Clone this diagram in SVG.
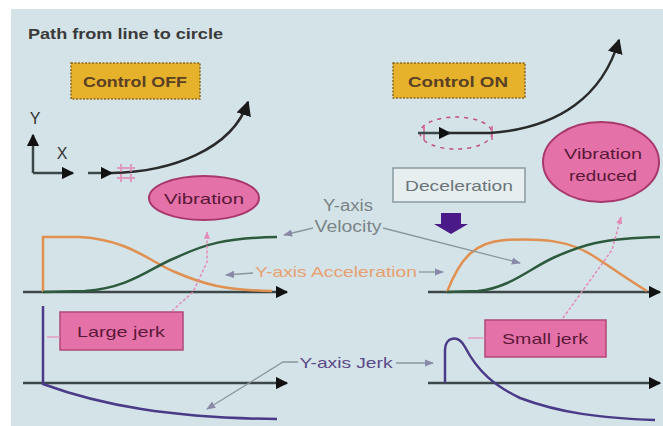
<svg xmlns="http://www.w3.org/2000/svg" width="663" height="426" viewBox="0 0 663 426">
<style>
  text { font-family: "Liberation Sans", Arial, sans-serif; }
  .axis { stroke: #3c4848; stroke-width: 2.5; fill: none; }
  .ptr { stroke: #8a979c; stroke-width: 1.3; fill: none; }
  .pinkdot { stroke: #e48ab8; stroke-width: 1.5; fill: none; stroke-dasharray: 3 2; }
  .box-y { fill: #e6b22c; stroke: #8a6a20; stroke-width: 1.5; stroke-dasharray: 2 1.5; }
  .box-p { fill: #e472a8; stroke: #b04878; stroke-width: 1.5; }
  .ell-p { fill: #e472a8; stroke: #a8386c; stroke-width: 2; }
  .lbl { font-size: 15px; font-weight: bold; fill: #5a4024; }
  .plbl { font-size: 15px; fill: #5a1838; }
</style>
<defs>
  <marker id="bigArr" viewBox="0 0 10 10" refX="9" refY="5" markerWidth="5" markerHeight="5" orient="auto" markerUnits="strokeWidth">
    <path d="M0,0 L10,5 L0,10 z" fill="#111"/>
  </marker>
  <marker id="pathArr" viewBox="0 0 10 10" refX="9" refY="5" markerWidth="6" markerHeight="6" orient="auto" markerUnits="strokeWidth">
    <path d="M0,0 L10,5 L0,10 z" fill="#1a1a1a"/>
  </marker>
  <marker id="smArr" viewBox="0 0 10 10" refX="9" refY="5" markerWidth="7" markerHeight="7" orient="auto" markerUnits="strokeWidth">
    <path d="M0,1 L10,5 L0,9 z" fill="#8a8aa8"/>
  </marker>
  <marker id="pkArr" viewBox="0 0 10 10" refX="9" refY="5" markerWidth="5" markerHeight="5" orient="auto" markerUnits="strokeWidth">
    <path d="M0,1 L10,5 L0,9 z" fill="#e48ab8"/>
  </marker>
</defs>

<rect x="0" y="0" width="663" height="426" fill="#ffffff"/>
<rect x="11" y="9" width="652" height="417" fill="#d4e3e7"/>

<text x="28" y="39" font-size="14" font-weight="bold" fill="#3a3a3a" textLength="195" lengthAdjust="spacingAndGlyphs">Path from line to circle</text>

<g id="control-off">
  <rect class="box-y" x="71" y="63" width="129" height="36"/>
  <text class="lbl" x="135" y="87" text-anchor="middle" textLength="104" lengthAdjust="spacingAndGlyphs">Control OFF</text>
</g>

<g id="control-on">
  <rect class="box-y" x="393" y="63" width="132" height="35"/>
  <text class="lbl" x="458" y="87" text-anchor="middle" textLength="100" lengthAdjust="spacingAndGlyphs">Control ON</text>
</g>

<g id="xy-axes">
  <line class="axis" x1="33" y1="173" x2="33" y2="135" marker-end="url(#bigArr)"/>
  <line class="axis" x1="33" y1="173" x2="73" y2="173" marker-end="url(#bigArr)"/>
  <text x="35" y="124" font-size="16" fill="#333" text-anchor="middle">Y</text>
  <text x="62" y="159" font-size="16" fill="#333" text-anchor="middle">X</text>
</g>

<g id="path-off">
  <line class="axis" x1="88" y1="173" x2="112" y2="173" marker-end="url(#bigArr)"/>
  <path d="M112,173 C170,172 232,150 248,102" stroke="#2a2a2a" stroke-width="2.5" fill="none" marker-end="url(#pathArr)"/>
  <g stroke="#e080b0" stroke-width="1.5" fill="none">
    <line x1="121" y1="164" x2="121" y2="182" stroke-dasharray="3 2"/>
    <line x1="131" y1="164" x2="131" y2="182" stroke-dasharray="3 2"/>
    <line x1="117" y1="168" x2="135" y2="168"/>
    <line x1="117" y1="178" x2="135" y2="178"/>
  </g>
</g>

<g id="path-on">
  <ellipse cx="456" cy="133" rx="36" ry="16" fill="none" stroke="#c05080" stroke-width="1.5" stroke-dasharray="4 5"/>
  <line x1="424" y1="126" x2="424" y2="140" stroke="#d06090" stroke-width="1.5"/>
  <line x1="492" y1="126" x2="492" y2="140" stroke="#d06090" stroke-width="1.5"/>
  <line class="axis" x1="418" y1="133" x2="450" y2="133" marker-end="url(#bigArr)"/>
  <path d="M448,133 L490,133 C560,128 603,95 619,40" stroke="#2a2a2a" stroke-width="2.5" fill="none" marker-end="url(#pathArr)"/>
</g>

<g id="vibration">
  <ellipse class="ell-p" cx="204" cy="198" rx="55" ry="22"/>
  <text class="plbl" x="204" y="204" text-anchor="middle" textLength="80" lengthAdjust="spacingAndGlyphs">Vibration</text>
</g>

<g id="vibration-reduced">
  <ellipse class="ell-p" cx="601" cy="162" rx="58" ry="40"/>
  <text class="plbl" x="603" y="159" text-anchor="middle" textLength="78" lengthAdjust="spacingAndGlyphs">Vibration</text>
  <text class="plbl" x="603" y="181" text-anchor="middle" textLength="68" lengthAdjust="spacingAndGlyphs">reduced</text>
</g>

<g id="deceleration">
  <rect x="393" y="168" width="132" height="34" fill="#e6eef0" stroke="#8a9aa0" stroke-width="1.5"/>
  <text x="459" y="191" font-size="15" fill="#6a7478" text-anchor="middle" textLength="108" lengthAdjust="spacingAndGlyphs">Deceleration</text>
  <path d="M441,213 L461,213 L461,224 L468,224 L451,234 L434,224 L441,224 z" fill="#4a1a88"/>
</g>

<g id="large-jerk">
  <rect class="box-p" x="60" y="312" width="123" height="38"/>
  <text class="plbl" x="121" y="337" text-anchor="middle" textLength="88" lengthAdjust="spacingAndGlyphs">Large jerk</text>
</g>

<g id="small-jerk">
  <rect class="box-p" x="485" y="320" width="121" height="37"/>
  <text class="plbl" x="545" y="344" text-anchor="middle" textLength="86" lengthAdjust="spacingAndGlyphs">Small jerk</text>
</g>

<g id="graph-left-va">
  <line class="axis" x1="23" y1="292" x2="287" y2="292" marker-end="url(#bigArr)"/>
  <path d="M43,292 L43,237 L80,237 C130,240 150,262 175,272 C205,285 225,290 272,291" stroke="#e09050" stroke-width="2.5" fill="none"/>
  <path d="M43,292 L85,291 C130,288 150,268 175,258 C205,244 225,238 277,237" stroke="#2d5a3e" stroke-width="2.5" fill="none"/>
</g>

<g id="graph-left-jerk">
  <line class="axis" x1="23" y1="383" x2="287" y2="383" marker-end="url(#bigArr)"/>
  <path d="M43,306 L43,384 C100,405 170,418 277,419" stroke="#4a3a88" stroke-width="2.5" fill="none"/>
</g>

<g id="graph-right-va">
  <line class="axis" x1="428" y1="292" x2="660" y2="292" marker-end="url(#bigArr)"/>
  <path d="M447,292 C460,258 475,242 505,240 C540,238 570,240 595,257 C615,270 632,282 647,291" stroke="#e09050" stroke-width="2.5" fill="none"/>
  <path d="M447,292 L478,291 C510,288 530,268 555,257 C580,246 600,238 660,237" stroke="#2d5a3e" stroke-width="2.5" fill="none"/>
</g>

<g id="graph-right-jerk">
  <line class="axis" x1="428" y1="383" x2="660" y2="383" marker-end="url(#bigArr)"/>
  <path d="M445,383 L445,350 C445,337 458,334 465,347 C478,372 495,386 520,398 C560,413 600,418 655,420" stroke="#4a3a88" stroke-width="2.5" fill="none"/>
</g>

<g id="label-velocity">
  <text x="348" y="211" font-size="16" fill="#7a8488" text-anchor="middle" textLength="50" lengthAdjust="spacingAndGlyphs">Y-axis</text>
  <text x="348" y="232" font-size="16" fill="#7a8488" text-anchor="middle" textLength="67" lengthAdjust="spacingAndGlyphs">Velocity</text>
</g>

<g id="label-acceleration">
  <text x="336" y="277" font-size="15" fill="#e8a070" text-anchor="middle" textLength="162" lengthAdjust="spacingAndGlyphs">Y-axis Acceleration</text>
</g>

<g id="label-jerk">
  <text x="346" y="368" font-size="15" fill="#5a4a88" text-anchor="middle" textLength="93" lengthAdjust="spacingAndGlyphs">Y-axis Jerk</text>
</g>

<g id="connectors">
  <line class="ptr" x1="313" y1="228" x2="284" y2="235" marker-end="url(#smArr)"/>
  <line class="ptr" x1="383" y1="228" x2="520" y2="263" marker-end="url(#smArr)"/>
  <line class="ptr" x1="253" y1="273" x2="226" y2="275" marker-end="url(#smArr)"/>
  <line class="ptr" x1="419" y1="272" x2="443" y2="272" marker-end="url(#smArr)"/>
  <polyline class="ptr" points="298,362 283,362 207,409" marker-end="url(#smArr)"/>
  <line class="ptr" x1="396" y1="363" x2="433" y2="363" marker-end="url(#smArr)"/>
  <polyline class="pinkdot" points="172,311 193,292 207,262 207,232" marker-end="url(#pkArr)"/>
  <polyline class="pinkdot" points="563,318 612,250 621,217" marker-end="url(#pkArr)"/>
  <line x1="47" y1="337" x2="60" y2="337" stroke="#e48ab8" stroke-width="1.2"/>
  <line x1="468" y1="338" x2="485" y2="338" stroke="#e48ab8" stroke-width="1.2"/>
</g>
</svg>
